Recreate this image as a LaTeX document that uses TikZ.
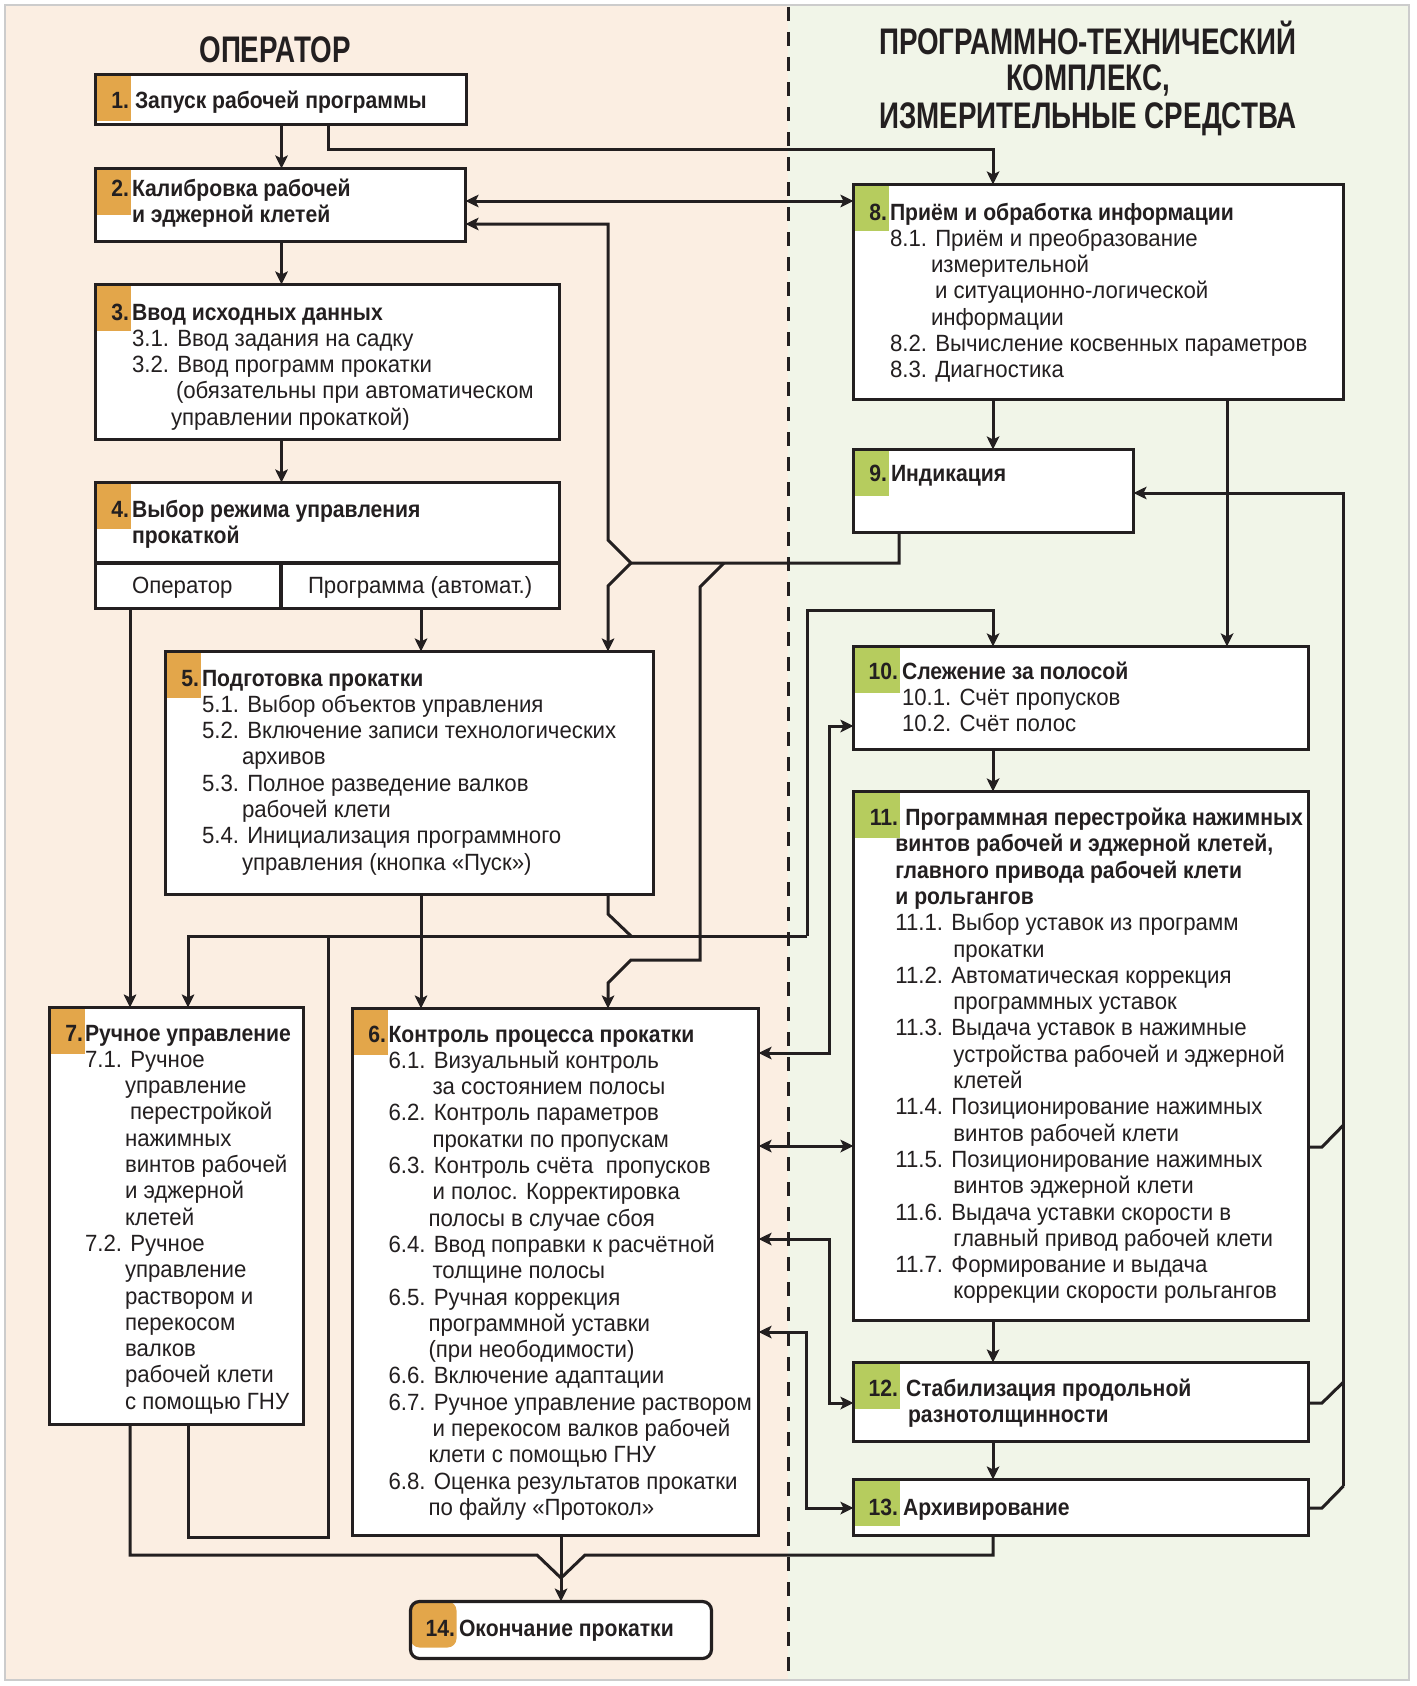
\documentclass[tikz,border=0pt]{standalone}
\usepackage{fontspec}
\setmainfont{Liberation Sans}
\newfontfamily\nf{Liberation Sans}[FakeStretch=0.945]
\newfontfamily\bff{Liberation Sans}[FakeStretch=0.90]
\newfontfamily\tff{Liberation Sans}[FakeStretch=0.75]
\usetikzlibrary{arrows.meta}
\definecolor{peach}{HTML}{FBEEE2}
\definecolor{lgreen}{HTML}{F1F5E8}
\definecolor{tago}{HTML}{E3A64A}
\definecolor{tagg}{HTML}{B6CC5E}
\definecolor{linec}{HTML}{231F20}
\definecolor{bordg}{HTML}{CCCCCC}
\newcommand{\mybold}[1]{{\bff\bfseries #1}}
\newcommand{\ind}[1]{\hspace*{#1pt}}
\newcommand{\fstrut}{\rule{0pt}{22pt}}
\begin{document}
\begin{tikzpicture}[x=1pt,y=-1pt,
  myarrow/.tip={Stealth[length=13pt,width=12.5pt,inset=3pt]},
  box/.style={draw=linec, line width=3.2pt, fill=white, inner sep=0pt, outer sep=0pt, anchor=north west, rectangle},
  tagbox/.style n args={2}{box, path picture={\fill[#2] (path picture bounding box.north west) rectangle ++(#1,46);}},
  conn/.style={draw=linec, line width=3pt},
  arr/.style={conn, -myarrow},
  darr/.style={conn, myarrow-myarrow},
  txt/.style={anchor=north west, inner sep=0pt, outer sep=0pt, align=left, text=linec, font=\nf\fontsize{23.5}{26.3}\selectfont},
  cell/.style={anchor=base west, inner sep=0pt, outer sep=0pt, text=linec, font=\nf\fontsize{23.5}{26.3}\selectfont},
  num/.style={anchor=base east, inner sep=0pt, outer sep=0pt, text=linec, font=\bff\bfseries\fontsize{23.5}{26.3}\selectfont},
  ttl/.style={anchor=base, inner sep=0pt, outer sep=0pt, text=linec, font=\tff\bfseries\fontsize{37}{40}\selectfont},
  sep/.style={draw=linec, line width=3pt, dash pattern=on 14pt off 11pt}
]
\useasboundingbox (0,0) rectangle (1416,1686);
% backgrounds
\fill[peach] (6,6) rectangle (788,1679);
\fill[lgreen] (788,6) rectangle (1408,1679);
\draw[bordg, line width=2.5pt] (5,5) rectangle (1409,1680);
\coordinate (dtop) at (788,7);
\coordinate (dbot) at (788,1679);
\draw[sep] (dtop) -- (dbot);

% titles
\node[ttl] (tl) at (275,63) {ОПЕРАТОР};
\node[ttl] (tr1) at (1088,55) {ПРОГРАММНО-ТЕХНИЧЕСКИЙ};
\node[ttl] (tr2) at (1088,90) {КОМПЛЕКС,};
\node[ttl] (tr3) at (1088,128) {ИЗМЕРИТЕЛЬНЫЕ СРЕДСТВА};

% boxes
\node[tagbox={35}{tago}, minimum width=371pt, minimum height=50pt] (b1) at (95.5,74.5) {};
\node[tagbox={35}{tago}, minimum width=370pt, minimum height=73pt] (b2) at (95.5,168.5) {};
\node[tagbox={35}{tago}, minimum width=464pt, minimum height=155pt] (b3) at (95.5,284.5) {};
\node[tagbox={35}{tago}, minimum width=464pt, minimum height=126pt] (b4) at (95.5,482.5) {};
\node[tagbox={35}{tago}, minimum width=488pt, minimum height=243pt] (b5) at (165.5,651.5) {};
\node[tagbox={35}{tago}, minimum width=406pt, minimum height=527pt] (b6) at (352.5,1008.5) {};
\node[tagbox={35}{tago}, minimum width=254pt, minimum height=417pt] (b7) at (49.5,1007.5) {};
\node[tagbox={46}{tago}, minimum width=301pt, minimum height=57pt, rounded corners=9pt] (b14) at (410.5,1601.5) {};
\node[tagbox={35}{tagg}, minimum width=490pt, minimum height=215pt] (b8) at (853.5,184.5) {};
\node[tagbox={35}{tagg}, minimum width=280pt, minimum height=83pt] (b9) at (853.5,449.5) {};
\node[tagbox={46}{tagg}, minimum width=455pt, minimum height=103pt] (b10) at (853.5,646.5) {};
\node[tagbox={46}{tagg}, minimum width=455pt, minimum height=529pt] (b11) at (853.5,791.5) {};
\node[tagbox={46}{tagg}, minimum width=455pt, minimum height=79pt] (b12) at (853.5,1362.5) {};
\node[tagbox={46}{tagg}, minimum width=455pt, minimum height=56pt] (b13) at (853.5,1479.5) {};
% box 4 dividers
\draw[draw=linec, line width=3.2pt] (b4.west |- 0,563) -- (b4.east |- 0,563);
\draw[draw=linec, line width=3.2pt] (281,563) -- (281,0 |- b4.south);

% connectors, operator side
\draw[arr] (281.5,0 |- b1.south) -- (281.5,0 |- b2.north);
\draw[arr] (328,0 |- b1.south) |- (993,149) -- (993,0 |- b8.north);
\draw[darr] (b2.east |- 0,201) -- (b8.west |- 0,201);
\draw[arr] (281.5,0 |- b2.south) -- (281.5,0 |- b3.north);
\draw[arr] (281.5,0 |- b3.south) -- (281.5,0 |- b4.north);
\draw[arr] (130,0 |- b4.south) -- (130,0 |- b7.north);
\draw[arr] (421,0 |- b4.south) -- (421,0 |- b5.north);
\draw[arr] (421,0 |- b5.south) -- (421,0 |- b6.north);
% feedback from 9
\coordinate (k1) at (631,563);
\coordinate (k2) at (724,563);
\draw[arr] (899,0 |- b9.south) -- (899,563) -- (k1) -- (608,540) -- (608,224) -- (b2.east |- 0,224);
\draw[arr] (k1) -- (608,586) -- (608,0 |- b5.north);
\draw[arr] (k2) -- (700,587) -- (700,960) -- (631,960) -- (608,983) -- (608,0 |- b6.north);
% bus from 5 and 7 to 7 and 10
\coordinate (m1) at (631,936);
\draw[conn] (608,0 |- b5.south) -- (608,914) -- (m1);
\draw[arr] (807,936) -- (188,936) -- (188,0 |- b7.north);
\draw[arr] (807,936) -- (807,610) -- (993,610) -- (993,0 |- b10.north);
\draw[conn] (188,0 |- b7.south) -- (188,1537) -- (328,1537) -- (328,936);
% to 14
\coordinate (m2) at (561,1578);
\draw[conn] (130,0 |- b7.south) -- (130,1555) -- (537,1555) -- (m2);
\draw[conn] (993,0 |- b13.south) -- (993,1555) -- (585,1555) -- (m2);
\draw[arr] (561,0 |- b6.south) -- (561,0 |- b14.north);
% right side
\draw[arr] (993,0 |- b8.south) -- (993,0 |- b9.north);
\draw[arr] (1227,0 |- b8.south) -- (1227,0 |- b10.north);
\draw[arr] (993,0 |- b10.south) -- (993,0 |- b11.north);
\draw[arr] (993,0 |- b11.south) -- (993,0 |- b12.north);
\draw[arr] (993,0 |- b12.south) -- (993,0 |- b13.north);
\draw[darr] (b6.east |- 0,1053) -- (829,1053) -- (829,726) -- (b10.west |- 0,726);
\draw[darr] (b6.east |- 0,1146) -- (b11.west |- 0,1146);
\draw[darr] (b6.east |- 0,1239) -- (829,1239) -- (829,1403) -- (b12.west |- 0,1403);
\draw[darr] (b6.east |- 0,1332) -- (806,1332) -- (806,1508) -- (b13.west |- 0,1508);
% right bus to 9
\coordinate (r0) at (1343.5,1486);
\draw[arr] (r0) -- (1343.5,493) -- (b9.east |- 0,493);
\draw[conn] (b11.east |- 0,1147) -- (1322,1147) -- (1343.5,1125);
\draw[conn] (b12.east |- 0,1403) -- (1322,1403) -- (1343.5,1382);
\draw[conn] (b13.east |- 0,1508) -- (1322,1508) -- (r0);

% texts
\node[num] (n1) at (129,108) {1.};
\node[txt] (x1) at (135,86) {\fstrut\mybold{Запуск рабочей программы}};
\node[num] (n2) at (129,196) {2.};
\node[txt] (x2) at (132,174) {\fstrut\mybold{Калибровка рабочей}\\\mybold{и эджерной клетей}};
\node[num] (n3) at (129,320) {3.};
\node[txt] (x3) at (132,298) {\fstrut\mybold{Ввод исходных данных}\\3.1. Ввод задания на садку\\3.2. Ввод программ прокатки\\\ind{44}(обязательны при автоматическом\\\ind{39}управлении прокаткой)};
\node[num] (n4) at (129,517) {4.};
\node[txt] (x4) at (132,495) {\fstrut\mybold{Выбор режима управления}\\\mybold{прокаткой}};
\node[cell] (c4a) at (132,593) {Оператор};
\node[cell] (c4b) at (308,593) {Программа (автомат.)};
\node[num] (n5) at (199,686) {5.};
\node[txt] (x5) at (202,664) {\fstrut\mybold{Подготовка прокатки}\\5.1. Выбор объектов управления\\5.2. Включение записи технологических\\\ind{40}архивов\\5.3. Полное разведение валков\\\ind{40}рабочей клети\\5.4. Инициализация программного\\\ind{40}управления (кнопка «Пуск»)};
\node[num] (n6) at (386,1042) {6.};
\node[txt] (x6) at (388.5,1020) {\fstrut\mybold{Контроль процесса прокатки}\\6.1. Визуальный контроль\\\ind{44}за состоянием полосы\\6.2. Контроль параметров\\\ind{44}прокатки по пропускам\\6.3. Контроль счёта\ \ пропусков\\\ind{44}и полос. Корректировка\\\ind{40}полосы в случае сбоя\\6.4. Ввод поправки к расчётной\\\ind{44}толщине полосы\\6.5. Ручная коррекция\\\ind{40}программной уставки\\\ind{40}(при неободимости)\\6.6. Включение адаптации\\6.7. Ручное управление раствором\\\ind{44}и перекосом валков рабочей\\\ind{40}клети с помощью ГНУ\\6.8. Оценка результатов прокатки\\\ind{40}по файлу «Протокол»};
\node[num] (n7) at (83,1041) {7.};
\node[txt] (x7) at (85,1019) {\fstrut\mybold{Ручное управление}\\7.1. Ручное\\\ind{40}управление\\\ind{45}перестройкой\\\ind{40}нажимных\\\ind{40}винтов рабочей\\\ind{40}и эджерной\\\ind{40}клетей\\7.2. Ручное\\\ind{40}управление\\\ind{40}раствором и\\\ind{40}перекосом\\\ind{40}валков\\\ind{40}рабочей клети\\\ind{40}с помощью ГНУ};
\node[num] (n14) at (455,1636) {14.};
\node[txt] (x14) at (459,1614) {\fstrut\mybold{Окончание прокатки}};
\node[num] (n8) at (887,220) {8.};
\node[txt] (x8) at (890,198) {\fstrut\mybold{Приём и обработка информации}\\8.1. Приём и преобразование\\\ind{41}измерительной\\\ind{45}и ситуационно-логической\\\ind{41}информации\\8.2. Вычисление косвенных параметров\\8.3. Диагностика};
\node[num] (n9) at (887,481) {9.};
\node[txt] (x9) at (891,459) {\fstrut\mybold{Индикация}};
\node[num] (n10) at (898,679) {10.};
\node[txt] (x10) at (902,657) {\fstrut\mybold{Слежение за полосой}\\10.1. Счёт пропусков\\10.2. Счёт полос};
\node[num] (n11) at (898,825.5) {11.};
\node[txt] (x11) at (895.4,803.5) {\fstrut\ind{10}\mybold{Программная перестройка нажимных}\\\mybold{винтов рабочей и эджерной клетей,}\\\mybold{главного привода рабочей клети}\\\mybold{и рольгангов}\\11.1. Выбор уставок из программ\\\ind{58}прокатки\\11.2. Автоматическая коррекция\\\ind{58}программных уставок\\11.3. Выдача уставок в нажимные\\\ind{58}устройства рабочей и эджерной\\\ind{58}клетей\\11.4. Позиционирование нажимных\\\ind{58}винтов рабочей клети\\11.5. Позиционирование нажимных\\\ind{58}винтов эджерной клети\\11.6. Выдача уставки скорости в\\\ind{58}главный привод рабочей клети\\11.7. Формирование и выдача\\\ind{58}коррекции скорости рольгангов};
\node[num] (n12) at (898,1396) {12.};
\node[txt] (x12) at (906,1374) {\fstrut\mybold{Стабилизация продольной}\\\ind{2}\mybold{разнотолщинности}};
\node[num] (n13) at (898,1515) {13.};
\node[txt] (x13) at (903,1493) {\fstrut\mybold{Архивирование}};
\end{tikzpicture}
\end{document}
